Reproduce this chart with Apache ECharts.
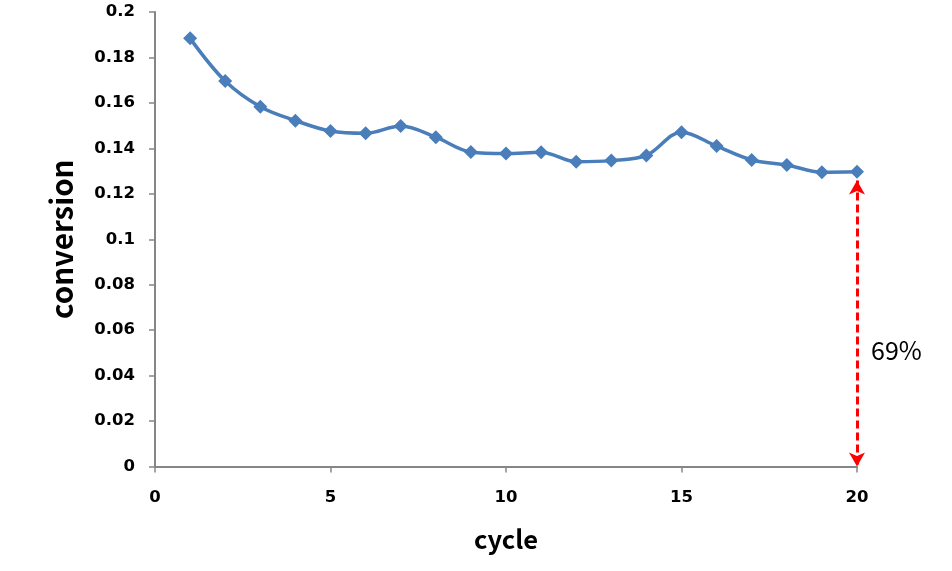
<!DOCTYPE html>
<html><head><meta charset="utf-8">
<script src="https://cdn.jsdelivr.net/npm/echarts@6/dist/echarts.min.js"></script>
<style>html,body{margin:0;padding:0;background:#fff}#c{width:952px;height:571px}</style>
</head><body><div id="c"></div>
<script>
const cycles = [1,2,3,4,5,6,7,8,9,10,11,12,13,14,15,16,17,18,19,20];
const conversion = [0.1884,0.1696,0.1583,0.1522,0.1476,0.1466,0.1498,0.1449,0.1384,0.1377,0.1383,0.1341,0.1346,0.1369,0.1471,0.1410,0.1349,0.1327,0.1295,0.1297];
const arrowFrom = [20, 0.1258];
const arrowTo = [20, 0];
const annotation = '69%';
const font = '"Noto Sans CJK KR", "Open Sans", sans-serif';
const tickFont = '"DejaVu Sans", sans-serif';

const chart = echarts.init(document.getElementById('c'), null, {renderer:'canvas'});
chart.setOption({
  animation:false,
  grid:{left:155, right:95, top:12, bottom:104.5},
  xAxis:{type:'value', min:0, max:20, interval:5,
    name:'cycle', nameLocation:'middle', nameGap:60,
    nameTextStyle:{fontFamily:font, fontWeight:'bold', fontSize:25.5, color:'#000'},
    axisLine:{lineStyle:{color:'#868686', width:2}},
    axisTick:{show:true, length:6, lineStyle:{color:'#868686', width:1.5}},
    axisLabel:{fontFamily:tickFont, fontWeight:'bold', fontSize:16.5, color:'#000', margin:23},
    splitLine:{show:false}},
  yAxis:{type:'value', min:0, max:0.2, interval:0.02,
    name:'conversion', nameLocation:'middle', nameGap:78,
    nameTextStyle:{fontFamily:font, fontWeight:'bold', fontSize:29.5, color:'#000'},
    axisLine:{show:true, lineStyle:{color:'#868686', width:2}},
    axisTick:{show:true, length:6, lineStyle:{color:'#868686', width:1.5}},
    axisLabel:{fontFamily:tickFont, fontWeight:'bold', fontSize:16.5, color:'#000', margin:20,
      formatter:v=>String(parseFloat(v.toFixed(2)))},
    splitLine:{show:false}},
  graphic:[{type:'text', left:871, top:338, silent:true,
    style:{text:annotation, font:'25px "Noto Sans CJK KR", sans-serif', fill:'#000'}}],
  series:[{
    type:'line', smooth:0.35,
    data:cycles.map((c,i)=>[c, conversion[i]]),
    symbol:'diamond', symbolSize:14,
    lineStyle:{color:'#4a7ebb', width:3.5},
    itemStyle:{color:'#4a7ebb'},
    markLine:{
      silent:true, symbol:['arrow','arrow'], symbolSize:[12,14],
      lineStyle:{color:'#ff0000', type:[8,4], width:3},
      label:{show:false},
      data:[[{coord:arrowFrom},{coord:arrowTo}]]
    }
  }]
});
</script></body></html>
